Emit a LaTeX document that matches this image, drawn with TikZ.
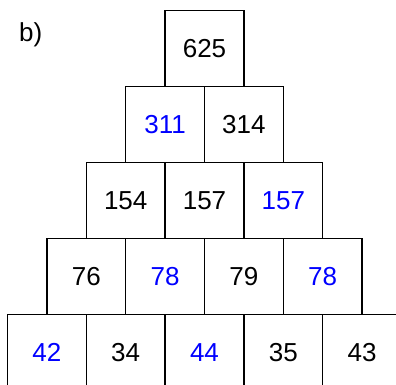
\documentclass[tikz,border=0pt]{standalone}
\usepackage{fontspec}
\setmainfont{Liberation Sans}
\usetikzlibrary{positioning}
\definecolor{pyrblue}{RGB}{0,0,255}
\tikzset{
  cell/.style={draw, line width=1.4pt, minimum width=78.8pt, minimum height=76pt,
    inner sep=0pt, outer sep=0pt, font=\fontsize{26}{30}\selectfont},
  given/.style={cell, text=pyrblue},
  tag/.style={inner sep=0pt, font=\fontsize{26}{30}\selectfont}
}
\begin{document}
\begin{tikzpicture}[x=1pt,y=1pt]
    \useasboundingbox (0,0) rectangle (396,385);
    \node[tag, anchor=base west] (label) at (19,343) {b)};
    % top row
    \node[cell] (c11) at (204.5,336.5) {625};
    % second row
    \node[given, anchor=north east] (c21) at (c11.south) {311};
    \node[cell, right=0pt of c21] (c22) {314};
    % third row
    \node[cell, anchor=north east] (c31) at (c21.south) {154};
    \node[cell, right=0pt of c31] (c32) {157};
    \node[given, right=0pt of c32] (c33) {157};
    % fourth row
    \node[cell, anchor=north east] (c41) at (c31.south) {76};
    \node[given, right=0pt of c41] (c42) {78};
    \node[cell, right=0pt of c42] (c43) {79};
    \node[given, right=0pt of c43] (c44) {78};
    % bottom row
    \node[given, anchor=north east] (c51) at (c41.south) {42};
    \node[cell, right=0pt of c51] (c52) {34};
    \node[given, right=0pt of c52] (c53) {44};
    \node[cell, right=0pt of c53] (c54) {35};
    \node[cell, right=0pt of c54] (c55) {43};
  \end{tikzpicture}
\end{document}
